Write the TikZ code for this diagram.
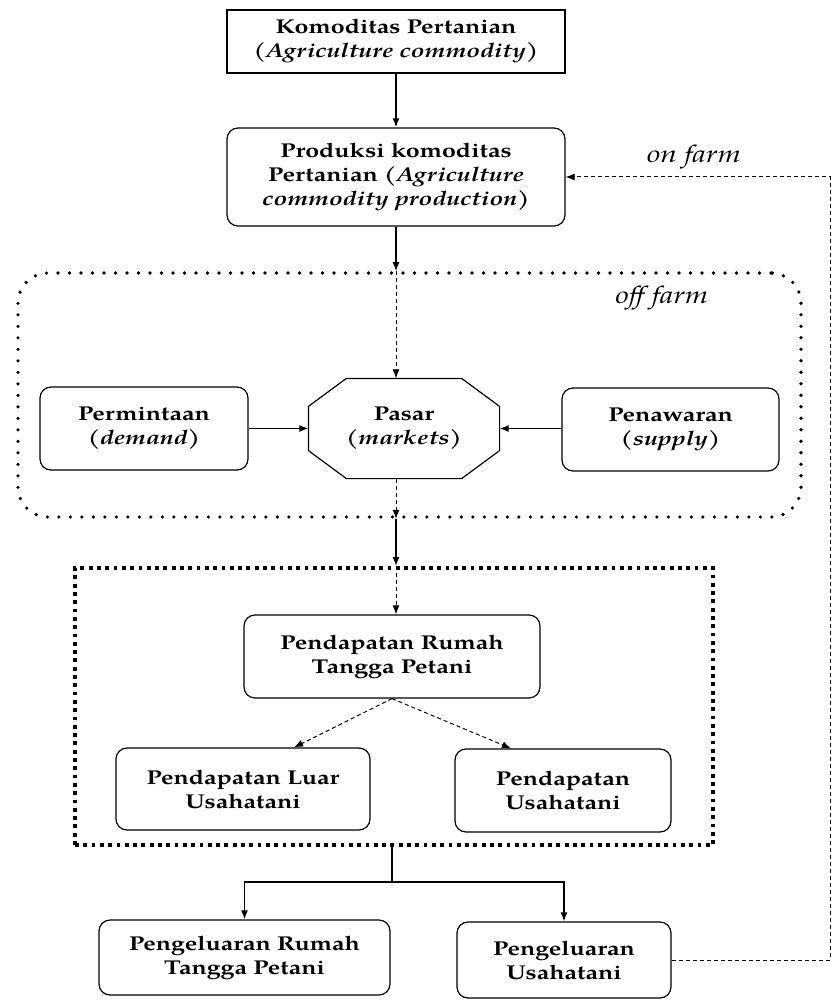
\documentclass[tikz,border=0pt]{standalone}
\usepackage{fontspec}
\setmainfont{TeX Gyre Pagella}[FakeStretch=1.25]
\usetikzlibrary{arrows.meta,calc}
\begin{document}
\begin{tikzpicture}[x=1pt,y=-1pt,
  box/.style={draw, line width=1.2pt, align=center, inner sep=0pt,
    font=\fontsize{20}{24}\selectfont\bfseries},
  rbox/.style={box, rounded corners=11pt},
  tip/.style={-{Latex[length=9pt,width=7pt]}},
  solidarr/.style={line width=1.5pt, tip},
  plainline/.style={line width=1.5pt},
  dasharr/.style={line width=1pt, dash pattern=on 4pt off 3pt, tip},
  offbox/.style={draw, rounded corners=30pt, line width=3.6pt, dash pattern=on 0pt off 11.5pt, line cap=round},
  sqbox/.style={draw, line width=3.8pt, dash pattern=on 3.8pt off 4.5pt},
  lbl/.style={font=\fontsize{24}{28}\selectfont\itshape, inner sep=0pt}
]
\useasboundingbox (0,0) rectangle (832,1000);

\node[box, minimum width=338pt, minimum height=63pt] (kom) at (396,41.5)
  {Komoditas Pertanian\\(\textit{Agriculture commodity})};
\node[rbox, minimum width=338pt, minimum height=98pt] (prod) at (396,177)
  {Produksi komoditas\\Pertanian (\textit{Agriculture}\\\textit{commodity production})};
\node[lbl] (onl) at (694,157) {on farm};

\node[offbox, minimum width=783pt, minimum height=244pt] (off) at (409.5,395) {};
\node[lbl] (offl) at (662,298) {off farm};

\node[rbox, minimum width=208pt, minimum height=83pt] (dem) at (144,428.5)
  {Permintaan\\(\textit{demand})};
\node[box, draw=none, minimum width=190pt, minimum height=99pt] (pasar) at (404,428.5)
  {Pasar\\(\textit{markets})};
\draw[line width=1.2pt] ($(pasar.north west)+(38,0)$) -- ($(pasar.north east)+(-38,0)$)
  -- ($(pasar.north east)+(0,28)$) -- ($(pasar.south east)+(0,-28)$)
  -- ($(pasar.south east)+(-38,0)$) -- ($(pasar.south west)+(38,0)$)
  -- ($(pasar.south west)+(0,-28)$) -- ($(pasar.north west)+(0,28)$) -- cycle;
\node[rbox, minimum width=217pt, minimum height=83pt] (sup) at (670.5,429.5)
  {Penawaran\\(\textit{supply})};

\node[sqbox, minimum width=638pt, minimum height=277pt] (inc) at (394,706.5) {};
\node[rbox, minimum width=296pt, minimum height=83pt] (prt) at (392,656.5)
  {Pendapatan Rumah\\Tangga Petani};
\node[rbox, minimum width=254pt, minimum height=82pt] (plu) at (243,789)
  {Pendapatan Luar\\Usahatani};
\node[rbox, minimum width=216pt, minimum height=83pt] (pu) at (563,790.5)
  {Pendapatan\\Usahatani};

\node[rbox, minimum width=291pt, minimum height=75pt] (prg) at (244.5,957.5)
  {Pengeluaran Rumah\\Tangga Petani};
\node[rbox, minimum width=214pt, minimum height=76pt] (pgu) at (564,960)
  {Pengeluaran\\Usahatani};

% connectors
\draw[solidarr] (kom.south) -- (prod.north);
\draw[solidarr] (prod.south) -- (prod.south |- off.north);
\draw[dasharr] (prod.south |- off.north) -- (prod.south |- pasar.north);
\draw[solidarr] (dem.east |- pasar.west) -- (pasar.west);
\draw[solidarr] (sup.west |- pasar.east) -- (pasar.east);
\draw[dasharr] (prod.south |- pasar.south) -- (prod.south |- off.south);
\draw[solidarr] (prod.south |- off.south) -- (prod.south |- inc.north);
\draw[dasharr] (prod.south |- inc.north) -- (prod.south |- prt.north);
\draw[dasharr] (prt.south) -- ($(plu.north west)!0.7!(plu.north east)$);
\draw[dasharr] (prt.south) -- ($(pu.north west)!0.26!(pu.north east)$);
\coordinate (j) at ($(prt.south |- inc.south)+(0,35)$);
\draw[plainline] (prt.south |- inc.south) -- (j);
\draw[solidarr] (j) -| (prg.north);
\draw[solidarr] (j) -| (pgu.north);
\coordinate (edge) at (830,0);
\draw[dasharr] (pgu.east) -- (pgu.east -| edge) -- (edge |- prod.east) -- (prod.east);
\end{tikzpicture}
\end{document}
